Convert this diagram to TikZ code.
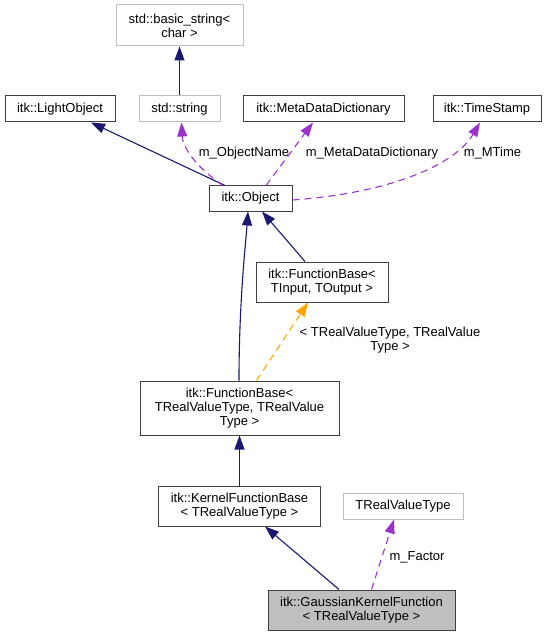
\documentclass[tikz,border=0pt]{standalone}
\usepackage{fontspec}
\setmainfont{Liberation Sans}
\usetikzlibrary{arrows.meta}
\definecolor{navy}{HTML}{191970}
\definecolor{orchid}{HTML}{9A32CD}
\definecolor{orng}{HTML}{FFA500}
\definecolor{greyseventyfive}{HTML}{BFBFBF}
\definecolor{boxline}{HTML}{404040}
\begin{document}
\begin{tikzpicture}[x=1pt,y=-1pt,
  font=\fontsize{13}{14}\selectfont,
  box/.style={draw=boxline, line width=1pt, inner sep=0pt, align=center, fill=white},
  extbox/.style={box, draw=greyseventyfive},
  tip/.style={-{Triangle[length=14pt,width=10pt]}},
  inh/.style={tip, draw=navy, line width=1.1pt},
  usage/.style={tip, draw=orchid, line width=1.1pt, dash pattern=on 7pt off 5pt},
  tmpl/.style={tip, draw=orng, line width=1.1pt, dash pattern=on 7pt off 5pt},
  lbl/.style={align=center, inner sep=0pt}
]
\useasboundingbox (0,0) rectangle (549,636);

% nodes
\node[extbox, minimum width=127pt, minimum height=41pt] (bstr) at (179.5,25.5) {std::basic\_string<\\char >};
\node[box, minimum width=110pt, minimum height=26pt] (light) at (60,109) {itk::LightObject};
\node[extbox, minimum width=81pt, minimum height=26pt] (sstr) at (179.5,109) {std::string};
\node[box, minimum width=161pt, minimum height=26pt] (meta) at (323.5,109) {itk::MetaDataDictionary};
\node[box, minimum width=108pt, minimum height=26pt] (time) at (487,109) {itk::TimeStamp};
\node[box, minimum width=83pt, minimum height=25pt] (obj) at (250.5,198.5) {itk::Object};
\node[box, minimum width=132pt, minimum height=40pt] (fbin) at (322,282) {itk::FunctionBase<\\TInput, TOutput >};
\node[box, minimum width=199pt, minimum height=54pt] (fbr) at (239.5,408) {itk::FunctionBase<\\ TRealValueType, TRealValue\\Type >};
\node[box, minimum width=162pt, minimum height=40pt] (kfb) at (239.5,506) {itk::KernelFunctionBase\\< TRealValueType >};
\node[extbox, minimum width=120pt, minimum height=26pt] (trv) at (403,506) {TRealValueType};
\node[box, fill=greyseventyfive, minimum width=187pt, minimum height=40pt] (gk) at (361.5,610) {itk::GaussianKernelFunction\\< TRealValueType >};

% labels
\node[lbl] (lon) at (244,153) {m\_ObjectName};
\node[lbl] (lmd) at (372,153) {m\_MetaDataDictionary};
\node[lbl] (lmt) at (492.5,153) {m\_MTime};
\node[lbl] (ltp) at (390,340.5) {< TRealValueType, TRealValue\\Type >};
\node[lbl] (lmf) at (417,557) {m\_Factor};

% edges
\draw[inh] (sstr.north) -- (bstr.south);
\draw[inh] ([xshift=-25.5pt]obj.north) -- ([xshift=31pt]light.south);
\draw[usage] ([xshift=-27.5pt]obj.north) .. controls (200,170) and (183,150) .. ([xshift=2pt]sstr.south);
\draw[usage] ([xshift=15.5pt]obj.north) -- ([xshift=-10.5pt]meta.south);
\draw[usage] ([yshift=-1.5pt]obj.east) .. controls (390,193) and (455,165) .. ([xshift=-7pt]time.south);
\draw[inh] ([xshift=-0.5pt]fbr.north) .. controls (239,300) and (246,240) .. ([xshift=-2.5pt]obj.south);
\draw[inh] ([xshift=-17pt]fbin.north) -- ([xshift=11.5pt]obj.south);
\draw[tmpl] ([xshift=17pt]fbr.north) -- ([xshift=-14pt]fbin.south);
\draw[inh] (kfb.north) -- (fbr.south);
\draw[inh] ([xshift=-22.5pt]gk.north) -- ([xshift=25.5pt]kfb.south);
\draw[usage] ([xshift=10pt]gk.north) -- ([xshift=-9pt]trv.south);
\end{tikzpicture}
\end{document}
